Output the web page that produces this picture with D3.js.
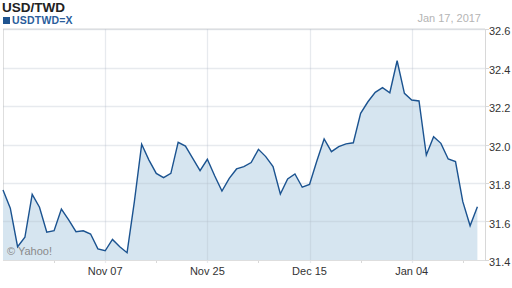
<!DOCTYPE html>
<html lang="en">
<head>
    <meta charset="UTF-8">
    <script src="https://cdn.jsdelivr.net/npm/d3@7"></script>
    <title>USD/TWD</title>
    <style>
        body {
            margin: 0;
            background: #fff;
            font-family: 'Liberation Sans', Arial, sans-serif;
        }
    </style>
</head>
<body>
    <div id="chart"></div>

    <script>
        const width = 512;
        const height = 288;

        // daily closes, Oct 18 2016 -> Jan 17 2017 (trading days)
        const rates = [
            31.764, 31.669, 31.469, 31.518, 31.741, 31.674, 31.544, 31.552, 31.665, 31.608,
            31.547, 31.552, 31.535, 31.458, 31.448, 31.507, 31.469, 31.438, 31.703, 32.001,
            31.919, 31.850, 31.828, 31.850, 32.011, 31.992, 31.928, 31.864, 31.923, 31.838,
            31.758, 31.824, 31.873, 31.885, 31.906, 31.975, 31.937, 31.885, 31.743, 31.821,
            31.847, 31.778, 31.793, 31.914, 32.029, 31.963, 31.989, 32.003, 32.009, 32.162,
            32.222, 32.271, 32.295, 32.269, 32.435, 32.266, 32.231, 32.226, 31.945, 32.040,
            32.006, 31.925, 31.911, 31.703, 31.578, 31.677
        ];

        const xTickIndex = [14, 28, 42, 56];
        const xTickLabels = ["Nov 07", "Nov 25", "Dec 15", "Jan 04"];
        const xMinorIndex = [7, 21, 35, 49, 63];
        const yTicks = [31.4, 31.6, 31.8, 32.0, 32.2, 32.4, 32.6];

        const title = "USD/TWD";
        const seriesName = "USDTWD=X";
        const lastDate = "Jan 17, 2017";

        const plot = { left: 3, right: 485, top: 29, bottom: 260 };

        const svg = d3.select("#chart").append("svg")
            .attr("width", width)
            .attr("height", height);

        const x = d3.scaleLinear()
            .domain([0, rates.length - 1])
            .range([plot.left, 477.4]);

        const y = d3.scaleLinear()
            .domain([31.4, 32.6])
            .range([plot.bottom, plot.top]);

        // frame
        svg.append("line")
            .attr("x1", plot.left).attr("x2", plot.right)
            .attr("y1", plot.top).attr("y2", plot.top)
            .attr("stroke", "#dedede");
        svg.append("line")
            .attr("x1", plot.left + 0.5).attr("x2", plot.left + 0.5)
            .attr("y1", plot.top).attr("y2", plot.bottom)
            .attr("stroke", "#dedede");

        // area + line
        const area = d3.area()
            .x((d, i) => x(i))
            .y0(y(31.4))
            .y1(d => y(d));

        const line = d3.line()
            .x((d, i) => x(i))
            .y(d => y(d));

        svg.append("path")
            .datum(rates)
            .attr("d", area)
            .attr("fill", "#d6e5f0");

        // grid, drawn over the area so it shows through
        svg.selectAll(".hgrid")
            .data(yTicks.slice(1))
            .enter()
            .append("line")
            .attr("x1", plot.left).attr("x2", plot.right)
            .attr("y1", d => Math.round(y(d)) + 0.5)
            .attr("y2", d => Math.round(y(d)) + 0.5)
            .attr("stroke", "#b0b8c8")
            .attr("stroke-opacity", 0.3)
            .attr("stroke-width", 1.3);

        svg.selectAll(".vgrid")
            .data(xTickIndex)
            .enter()
            .append("line")
            .attr("x1", d => Math.round(x(d)) + 0.5)
            .attr("x2", d => Math.round(x(d)) + 0.5)
            .attr("y1", plot.top).attr("y2", plot.bottom + 3)
            .attr("stroke", "#b0b8c8")
            .attr("stroke-opacity", 0.3)
            .attr("stroke-width", 1.3);

        svg.selectAll(".minor")
            .data(xMinorIndex)
            .enter()
            .append("line")
            .attr("x1", d => Math.round(x(d)) + 0.5)
            .attr("x2", d => Math.round(x(d)) + 0.5)
            .attr("y1", plot.bottom).attr("y2", plot.bottom + 3)
            .attr("stroke", "#d8d8d8");

        svg.append("path")
            .datum(rates)
            .attr("d", line)
            .attr("fill", "none")
            .attr("stroke", "#1b5390")
            .attr("stroke-width", 1.4)
            .attr("stroke-linejoin", "miter");

        // y axis on the right
        svg.append("line")
            .attr("x1", plot.right + 0.5).attr("x2", plot.right + 0.5)
            .attr("y1", plot.top).attr("y2", plot.bottom + 1)
            .attr("stroke", "#d8d8d8");

        svg.selectAll(".ytick")
            .data(yTicks)
            .enter()
            .append("line")
            .attr("x1", plot.right).attr("x2", plot.right + 4)
            .attr("y1", d => Math.round(y(d)) + 0.5)
            .attr("y2", d => Math.round(y(d)) + 0.5)
            .attr("stroke", "#d8d8d8");

        svg.selectAll(".ylabel")
            .data(yTicks)
            .enter()
            .append("text")
            .attr("x", 489)
            .attr("y", d => y(d) + 6)
            .attr("font-size", 11)
            .attr("fill", "#333")
            .text(d => d.toFixed(1));

        // bottom axis
        svg.append("line")
            .attr("x1", plot.left).attr("x2", plot.right)
            .attr("y1", plot.bottom + 0.5).attr("y2", plot.bottom + 0.5)
            .attr("stroke", "#dedede");

        svg.selectAll(".xlabel")
            .data(xTickIndex)
            .enter()
            .append("text")
            .attr("x", d => x(d))
            .attr("y", 275)
            .attr("text-anchor", "middle")
            .attr("font-size", 11)
            .attr("fill", "#333")
            .text((d, i) => xTickLabels[i]);

        // header
        svg.append("text")
            .attr("x", 2).attr("y", 12)
            .attr("font-size", 13.5)
            .attr("font-weight", "bold")
            .attr("fill", "#222")
            .text(title);

        svg.append("rect")
            .attr("x", 3).attr("y", 17)
            .attr("width", 7).attr("height", 7)
            .attr("fill", "#1f5490");

        svg.append("text")
            .attr("x", 12).attr("y", 24)
            .attr("font-size", 10.5)
            .attr("font-weight", "bold")
            .attr("letter-spacing", 0.2)
            .attr("fill", "#2a5d9c")
            .text(seriesName);

        svg.append("text")
            .attr("x", 481).attr("y", 22)
            .attr("text-anchor", "end")
            .attr("font-size", 11)
            .attr("fill", "#b4b4b4")
            .text(lastDate);

        svg.append("text")
            .attr("x", 7).attr("y", 255)
            .attr("font-size", 11)
            .attr("fill", "#8a8a8a")
            .text("© Yahoo!");
    </script>
</body>
</html>
